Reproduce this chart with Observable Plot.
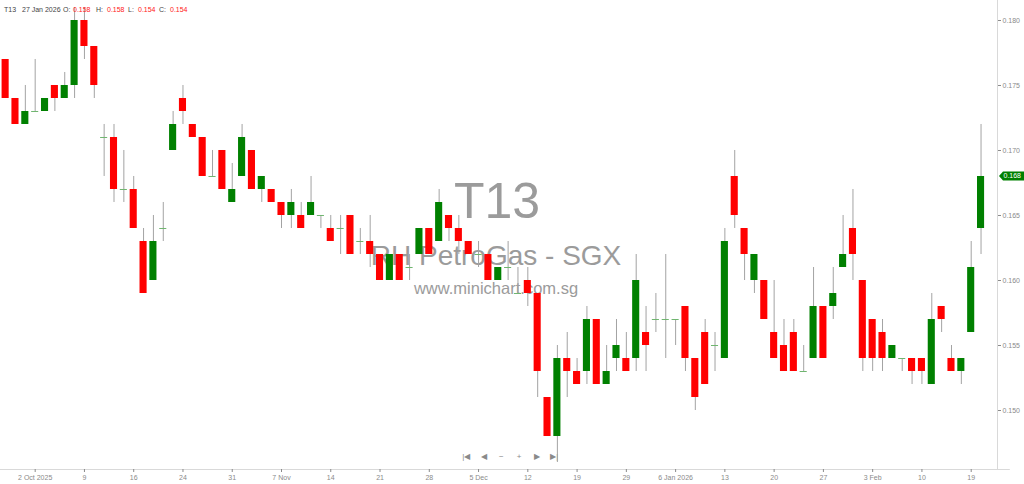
<!DOCTYPE html>
<html>
<head>
<meta charset="utf-8">
<script src="https://cdn.jsdelivr.net/npm/d3@7"></script>
<script src="https://cdn.jsdelivr.net/npm/@observablehq/plot@0.6"></script>
<style>
  html, body { margin: 0; padding: 0; background: #fff; }
  #wrap { position: relative; width: 1024px; height: 484px; overflow: hidden; font-family: "Liberation Sans", Arial, sans-serif; }
  #hdr span { position: absolute; top: 6px; font-size: 7px; line-height: 7px; color: #444; white-space: nowrap; }
  #hdr span.v { color: #ff2020; }
</style>
</head>
<body>
<div id="wrap">
  <div id="chart"></div>
  <div id="hdr">
    <span style="left:4px">T13</span>
    <span style="left:22px">27 Jan 2026</span>
    <span style="left:63px">O:</span>
    <span class="v" style="left:73px">0.158</span>
    <span style="left:96px">H:</span>
    <span class="v" style="left:107px">0.158</span>
    <span style="left:128px">L:</span>
    <span class="v" style="left:138px">0.154</span>
    <span style="left:159px">C:</span>
    <span class="v" style="left:170px">0.154</span>
  </div>
</div>
<script>
// Trading days (SGX), 29 Sep 2025 – 20 Feb 2026
const dates = [
  "2025-09-29","2025-09-30",
  "2025-10-01","2025-10-02","2025-10-03","2025-10-06","2025-10-07","2025-10-08","2025-10-09","2025-10-10",
  "2025-10-13","2025-10-14","2025-10-15","2025-10-16","2025-10-17","2025-10-21","2025-10-22","2025-10-23","2025-10-24",
  "2025-10-27","2025-10-28","2025-10-29","2025-10-30","2025-10-31",
  "2025-11-03","2025-11-04","2025-11-05","2025-11-06","2025-11-07","2025-11-10","2025-11-11","2025-11-12","2025-11-13","2025-11-14",
  "2025-11-17","2025-11-18","2025-11-19","2025-11-20","2025-11-21","2025-11-24","2025-11-25","2025-11-26","2025-11-27","2025-11-28",
  "2025-12-01","2025-12-02","2025-12-03","2025-12-04","2025-12-05","2025-12-08","2025-12-09","2025-12-10","2025-12-11","2025-12-12",
  "2025-12-15","2025-12-16","2025-12-17","2025-12-18","2025-12-19","2025-12-22","2025-12-23","2025-12-24","2025-12-26",
  "2025-12-29","2025-12-30","2025-12-31",
  "2026-01-02","2026-01-05","2026-01-06","2026-01-07","2026-01-08","2026-01-09","2026-01-12","2026-01-13","2026-01-14","2026-01-15","2026-01-16",
  "2026-01-19","2026-01-20","2026-01-21","2026-01-22","2026-01-23","2026-01-26","2026-01-27","2026-01-28","2026-01-29","2026-01-30",
  "2026-02-02","2026-02-03","2026-02-04","2026-02-05","2026-02-06","2026-02-09","2026-02-10","2026-02-11","2026-02-12","2026-02-13",
  "2026-02-16","2026-02-19","2026-02-20"
];

const open = [
  0.177,0.174,0.172,0.173,0.173,0.175,0.174,0.175,0.180,0.178,
  0.171,0.171,0.167,0.167,0.163,0.160,0.164,0.170,0.174,0.172,
  0.171,0.168,0.170,0.166,0.168,0.170,0.167,0.167,0.166,0.165,
  0.165,0.165,0.165,0.164,0.164,0.165,0.163,0.163,0.162,0.160,
  0.162,0.161,0.162,0.164,0.163,0.165,0.164,0.163,0.162,0.162,
  0.160,0.161,0.159,0.160,0.159,0.151,0.148,0.154,0.153,0.153,
  0.157,0.152,0.154,0.154,0.154,0.156,0.157,0.157,0.157,0.158,
  0.154,0.156,0.155,0.154,0.168,0.164,0.160,0.160,0.156,0.155,
  0.156,0.153,0.154,0.158,0.158,0.161,0.164,0.160,0.157,0.156,
  0.154,0.154,0.154,0.154,0.152,0.158,0.154,0.153,0.156,0.164
];
const high = [
  0.177,0.174,0.175,0.177,0.174,0.175,0.176,0.181,0.181,0.178,
  0.172,0.172,0.170,0.168,0.164,0.165,0.166,0.173,0.175,0.172,
  0.171,0.170,0.170,0.169,0.172,0.170,0.168,0.167,0.166,0.167,
  0.166,0.168,0.165,0.165,0.165,0.165,0.164,0.165,0.162,0.162,
  0.162,0.162,0.164,0.164,0.167,0.165,0.165,0.163,0.163,0.162,
  0.161,0.163,0.161,0.161,0.159,0.151,0.155,0.156,0.154,0.158,
  0.157,0.155,0.157,0.156,0.162,0.158,0.159,0.162,0.157,0.158,
  0.154,0.157,0.156,0.164,0.170,0.164,0.162,0.160,0.160,0.157,
  0.157,0.155,0.161,0.158,0.161,0.165,0.167,0.160,0.157,0.157,
  0.155,0.154,0.154,0.154,0.159,0.158,0.155,0.154,0.163,0.172
];
const low = [
  0.174,0.172,0.172,0.173,0.173,0.173,0.174,0.174,0.177,0.174,
  0.168,0.166,0.166,0.164,0.159,0.160,0.163,0.170,0.172,0.171,
  0.168,0.168,0.167,0.166,0.168,0.167,0.166,0.166,0.164,0.164,
  0.164,0.165,0.164,0.163,0.162,0.162,0.162,0.161,0.160,0.160,
  0.160,0.160,0.162,0.162,0.163,0.163,0.162,0.162,0.161,0.160,
  0.160,0.160,0.159,0.158,0.151,0.148,0.146,0.151,0.152,0.152,
  0.152,0.152,0.153,0.153,0.153,0.153,0.156,0.154,0.155,0.153,
  0.150,0.152,0.153,0.154,0.164,0.160,0.159,0.157,0.154,0.153,
  0.153,0.153,0.154,0.154,0.157,0.161,0.160,0.153,0.153,0.153,
  0.154,0.153,0.152,0.152,0.152,0.156,0.153,0.152,0.156,0.162
];
const close = [
  0.174,0.172,0.173,0.173,0.174,0.174,0.175,0.180,0.178,0.175,
  0.171,0.167,0.167,0.164,0.159,0.163,0.164,0.172,0.173,0.171,
  0.168,0.168,0.167,0.167,0.171,0.167,0.168,0.166,0.165,0.166,
  0.164,0.166,0.165,0.163,0.164,0.162,0.163,0.162,0.160,0.162,
  0.160,0.161,0.164,0.162,0.166,0.164,0.163,0.162,0.162,0.160,
  0.161,0.161,0.159,0.159,0.153,0.148,0.154,0.153,0.152,0.157,
  0.152,0.153,0.155,0.153,0.160,0.155,0.157,0.157,0.157,0.154,
  0.151,0.152,0.155,0.163,0.165,0.162,0.162,0.157,0.154,0.153,
  0.153,0.153,0.158,0.154,0.159,0.162,0.162,0.154,0.154,0.154,
  0.155,0.154,0.153,0.153,0.157,0.157,0.153,0.154,0.161,0.168
];

const tickDates = ["2025-10-02","2025-10-09","2025-10-16","2025-10-24","2025-10-31","2025-11-07","2025-11-14",
  "2025-11-21","2025-11-28","2025-12-05","2025-12-12","2025-12-19","2025-12-29","2026-01-06","2026-01-13",
  "2026-01-20","2026-01-27","2026-02-03","2026-02-10","2026-02-19"];
const tickLabels = ["2 Oct 2025","9","16","24","31","7 Nov","14","21","28","5 Dec","12","19","29","6 Jan 2026",
  "13","20","27","3 Feb","10","19"];
const yTicks = [0.150, 0.155, 0.160, 0.165, 0.170, 0.175, 0.180];

const title = "T13";
const subtitle = "RH PetroGas - SGX";
const site = "www.minichart.com.sg";
const navGlyphs = ["|◀", "◀", "−", "+", "▶", "▶|"];

const UP = "#008000", DOWN = "#ff0000", DOJI = "#6fb56f", WICK = "#a3a3a3";

const candles = dates.map((d, i) => ({i, date: d, open: open[i], high: high[i], low: low[i], close: close[i]}));
const bodies = candles.filter(d => d.open !== d.close);
const dojis = candles.filter(d => d.open === d.close);
const tickIdx = tickDates.map(d => dates.indexOf(d));
const labelOf = new Map(tickIdx.map((i, k) => [i, tickLabels[k]]));
const last = candles[candles.length - 1];

const xDomain = [-0.52, dates.length + 0.67];
const yDomain = [0.145462, 0.181538];
const half = 0.36;

const chart = Plot.plot({
  width: 1024,
  height: 484,
  marginLeft: 0,
  marginRight: 27,
  marginTop: 0,
  marginBottom: 15,
  style: {fontFamily: "'Liberation Sans', Arial, sans-serif", background: "#fff"},
  x: {type: "linear", domain: xDomain},
  y: {domain: yDomain},
  marks: [
    Plot.text([title], {text: d => d, frameAnchor: "middle", dx: -2, dy: -33, fontSize: 50, fill: "#9b9b9b"}),
    Plot.text([subtitle], {text: d => d, frameAnchor: "middle", dx: -3, dy: 21.5, fontSize: 28, fill: "#9b9b9b"}),
    Plot.text([site], {text: d => d, frameAnchor: "middle", dx: -3, dy: 54, fontSize: 16.5, fill: "#9b9b9b"}),
    ...navGlyphs.map((g, k) => Plot.text([g], {text: d => d, frameAnchor: "bottom", dx: -32.8 + k * 17.6, dy: -11, fontSize: 8, fill: "#8a8a8a"})),
    Plot.ruleX([xDomain[1]], {stroke: "#d9d9d9"}),
    Plot.ruleY([yDomain[0]], {x1: xDomain[0], x2: xDomain[1] + 1.3, stroke: "#d9d9d9"}),
    Plot.ruleX(candles, {x: "i", y1: "low", y2: "high", stroke: WICK, strokeWidth: 1}),
    Plot.rect(bodies, {
      x1: d => d.i - half, x2: d => d.i + half,
      y1: "open", y2: "close",
      fill: d => d.close > d.open ? UP : DOWN
    }),
    Plot.ruleY(dojis, {y: "close", x1: d => d.i - half, x2: d => d.i + half, stroke: DOJI, strokeWidth: 1}),
    Plot.axisY({anchor: "right", ticks: yTicks, tickFormat: d3.format(".3f"), tickSize: 3, tickPadding: 2, fontSize: 7, color: "#8a8a8a", label: null}),
    Plot.axisX({anchor: "bottom", ticks: tickIdx, tickFormat: i => labelOf.get(i), tickSize: 3, tickPadding: 3, fontSize: 7, color: "#8a8a8a", label: null})
  ]
});

document.getElementById("chart").appendChild(chart);

// Last price tag on the right axis, placed through the chart's own scales
const yPix = chart.scale("y").apply(last.close);
const xPix = chart.scale("x").apply(xDomain[1]);
const svg = d3.select(chart);
const g = svg.append("g");
g.append("path")
  .attr("d", `M${xPix + 2},${yPix} L${xPix + 6},${yPix - 4.5} L1024,${yPix - 4.5} L1024,${yPix + 4.5} L${xPix + 6},${yPix + 4.5} Z`)
  .attr("fill", UP);
g.append("text")
  .attr("x", xPix + 6.5)
  .attr("y", yPix)
  .attr("dy", "0.35em")
  .attr("text-anchor", "start")
  .attr("fill", "#fff")
  .attr("font-size", 7)
  .text(d3.format(".3f")(last.close));
</script>
</body>
</html>
